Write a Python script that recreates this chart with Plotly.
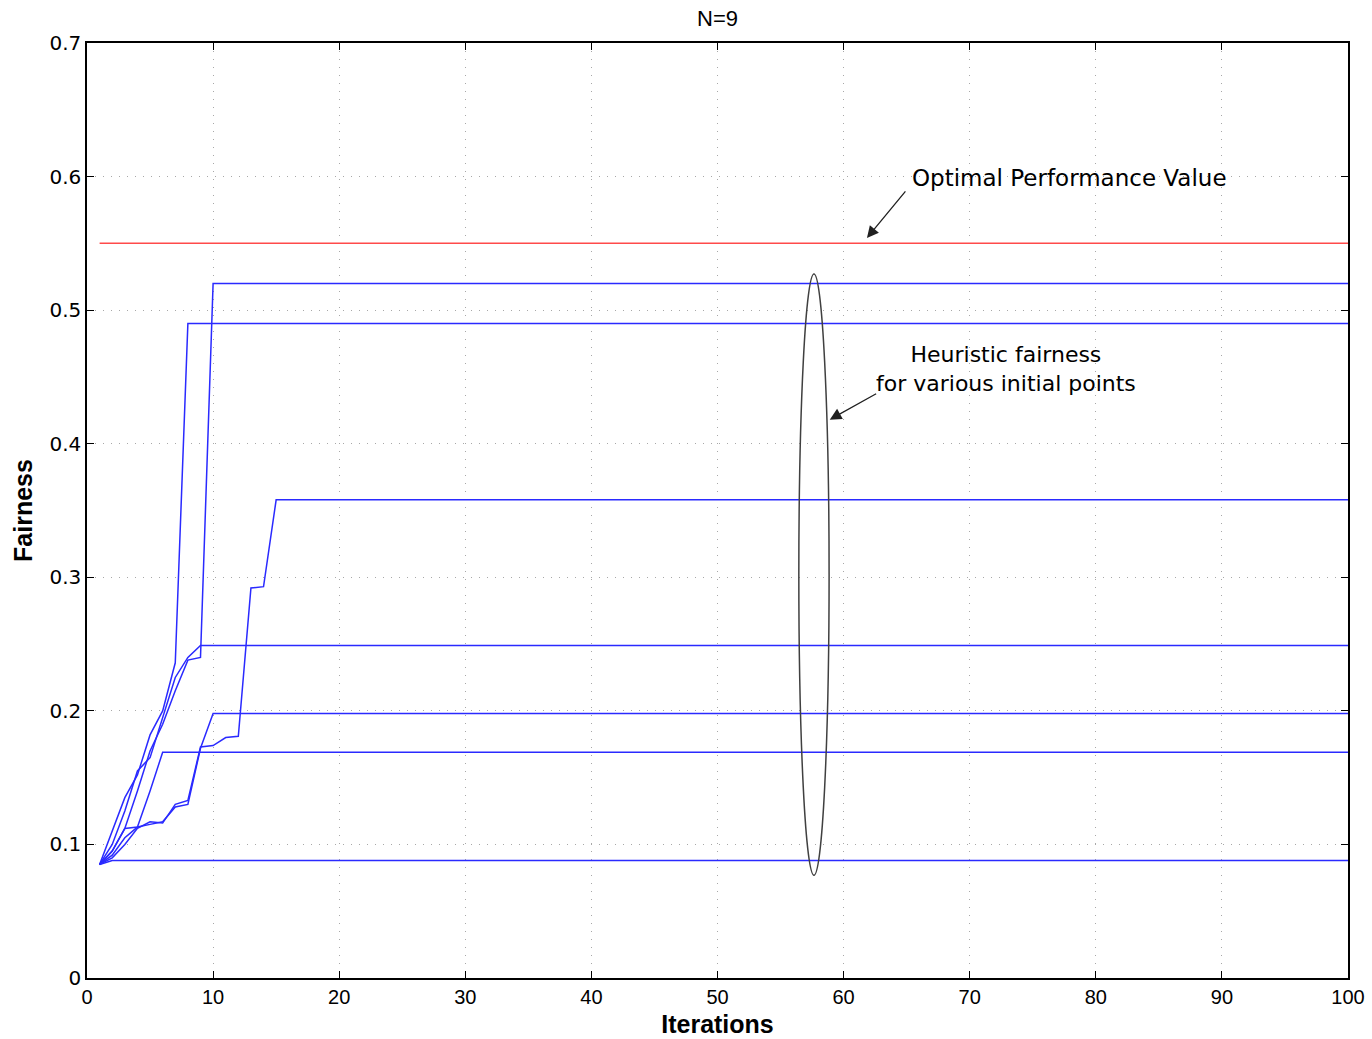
import plotly.graph_objects as go

# Iterations axis
n_iterations = 100
iterations = list(range(1, n_iterations + 1))

# Heuristic fairness traces (values for the first iterations; each then stays at its last value)
run_a = [0.085, 0.095, 0.112, 0.140, 0.170, 0.190, 0.215, 0.238, 0.240, 0.520]
run_b = [0.085, 0.110, 0.135, 0.152, 0.182, 0.200, 0.236, 0.490]
run_c = [0.085, 0.100, 0.125, 0.155, 0.165, 0.195, 0.225, 0.240, 0.249]
run_d = [0.085, 0.095, 0.112, 0.113, 0.140, 0.169]
run_e = [0.085, 0.092, 0.105, 0.113, 0.115, 0.117, 0.128, 0.130, 0.172, 0.198]
run_f = [0.085, 0.090, 0.100, 0.112, 0.117, 0.116, 0.130, 0.133, 0.173, 0.174,
         0.180, 0.181, 0.292, 0.293, 0.358]
run_g = [0.085, 0.088]
runs = [run_a, run_b, run_c, run_d, run_e, run_f, run_g]

optimal_value = 0.55

x_ticks = [0, 10, 20, 30, 40, 50, 60, 70, 80, 90, 100]
y_ticks = [0, 0.1, 0.2, 0.3, 0.4, 0.5, 0.6, 0.7]

fig = go.Figure()

for run in runs:
    ys = run + [run[-1]] * (n_iterations - len(run))
    fig.add_trace(go.Scatter(x=iterations, y=ys, mode="lines",
                             line=dict(color="#2a2aff", width=1.5),
                             showlegend=False, hoverinfo="skip"))

fig.add_trace(go.Scatter(x=iterations, y=[optimal_value] * n_iterations, mode="lines",
                         line=dict(color="#ff4a4a", width=1.5),
                         showlegend=False, hoverinfo="skip"))

# ellipse around the converged values
fig.add_shape(type="circle", xref="x", yref="y",
              x0=56.45, x1=58.85, y0=0.077, y1=0.527,
              line=dict(color="#404040", width=1.5))

font_sans = "Liberation Sans, Arial, sans-serif"
font_wide = "DejaVu Sans, Verdana, sans-serif"

# Annotation texts
fig.add_annotation(x=77.9, y=0.599, text="Optimal Performance Value", showarrow=False,
                   font=dict(size=23, color="black", family=font_wide))
fig.add_annotation(x=61.85, y=0.554, ax=65.0, ay=0.590, axref="x", ayref="y",
                   text="", showarrow=True, arrowhead=2, arrowsize=1.8, arrowwidth=1.3,
                   arrowcolor="#202020")
fig.add_annotation(x=72.9, y=0.456, text="Heuristic fairness<br>for various initial points",
                   showarrow=False, font=dict(size=22, color="black", family=font_wide))
fig.add_annotation(x=58.9, y=0.418, ax=62.7, ay=0.438, axref="x", ayref="y",
                   text="", showarrow=True, arrowhead=2, arrowsize=1.8, arrowwidth=1.3,
                   arrowcolor="#202020")

axis_common = dict(
    showline=True, linecolor="black", linewidth=1.5, mirror="ticks",
    ticks="inside", ticklen=7, tickcolor="black", tickwidth=1.2,
    showgrid=True, gridcolor="#a8a8a8", griddash="1px,7px", gridwidth=1.2,
    zeroline=False, automargin=False,
)

fig.update_xaxes(range=[0, 100], tickvals=x_ticks,
                 tickfont=dict(size=20, color="black", family=font_sans),
                 ticklabeloverflow="allow",
                 title=dict(text="<b>Iterations</b>",
                            font=dict(size=25, color="black", family=font_sans),
                            standoff=9),
                 **axis_common)
fig.update_yaxes(range=[0, 0.7], tickvals=y_ticks, ticktext=[f"{v:g}" for v in y_ticks],
                 tickfont=dict(size=20, color="black", family=font_wide),
                 title=dict(text="<b>Fairness</b>",
                            font=dict(size=25, color="black", family=font_sans),
                            standoff=10),
                 **axis_common)

fig.update_layout(
    width=1372, height=1039,
    margin=dict(l=87, r=24, t=43, b=61),
    paper_bgcolor="white", plot_bgcolor="white",
    title=dict(text="N=9", xref="paper", x=0.5, xanchor="center",
               y=1 - 18 / 1039, yanchor="middle",
               font=dict(size=22, color="black", family=font_sans)),
)

fig.write_html("out.html", config={"displayModeBar": False},
               post_script="document.body.style.margin='0';document.body.style.overflow='hidden';")
